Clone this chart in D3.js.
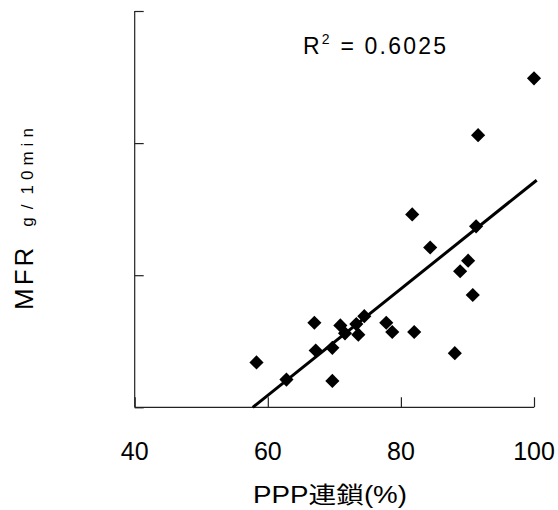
<!DOCTYPE html>
<html><head><meta charset="utf-8">
<script src="https://cdn.jsdelivr.net/npm/d3@7"></script>
<style>html,body{margin:0;padding:0;background:#fff;}svg{display:block;}</style>
</head><body>
<svg id="c" width="558" height="510"></svg>
<script>
// Data
const pppChain = [58.3, 62.8, 69.7, 67.2, 69.7, 67.0, 70.9, 71.6, 73.3, 73.6, 74.5, 77.8, 78.7, 82.0, 88.1, 90.8, 88.9, 90.1, 84.4, 91.3, 81.7, 91.6, 100.0];
const mfr      = [0.34, 0.21, 0.20, 0.43, 0.45, 0.64, 0.62, 0.56, 0.63, 0.55, 0.69, 0.64, 0.57, 0.57, 0.41, 0.85, 1.03, 1.11, 1.21, 1.37, 1.46, 2.06, 2.49];
const xTicks = [40, 60, 80, 100];
const yTicks = [0, 1, 2, 3];
const trendCoef = [0.0403, -2.327];   // slope, intercept
const trendXMax = 100.4;
const r2Value = "0.6025";

const svg = d3.select("#c");
const m = {l: 134.7, r: 534, t: 11, b: 407.3};
const x = d3.scaleLinear().domain([40, 100]).range([m.l, m.r]);
const y = d3.scaleLinear().domain([0, 3]).range([m.b, m.t]);

// axes with inward ticks
const gx = svg.append("g").attr("transform", `translate(0,${m.b})`)
  .call(d3.axisTop(x).tickValues(xTicks).tickSize(10).tickFormat(""));
gx.select(".domain").attr("d", `M${m.l},0H${m.r}`);
const gy = svg.append("g").attr("transform", `translate(${m.l},0)`)
  .call(d3.axisRight(y).tickValues(yTicks).tickSize(9).tickFormat(""));
gy.select(".domain").attr("d", `M0,${m.t}V${m.b}`);
svg.selectAll(".domain").attr("stroke", "#222").attr("stroke-width", 1.2);
svg.selectAll(".tick line").attr("stroke", "#222").attr("stroke-width", 1.2);

// x tick labels
svg.append("g").selectAll("text").data(xTicks).join("text")
  .attr("x", d => x(d)).attr("y", 460)
  .attr("text-anchor", "middle")
  .attr("font-family", "Liberation Sans, Arial, sans-serif")
  .attr("font-size", 25).attr("fill", "#000")
  .text(d => d);

// trend line
const x0 = -trendCoef[1] / trendCoef[0];
svg.append("line")
  .attr("x1", x(x0)).attr("y1", y(trendCoef[0]*x0 + trendCoef[1]))
  .attr("x2", x(trendXMax)).attr("y2", y(trendCoef[0]*trendXMax + trendCoef[1]))
  .attr("stroke", "#000").attr("stroke-width", 3);

// points (diamonds)
const diamond = d3.symbol().type(d3.symbolSquare).size(100);
svg.append("g").selectAll("path").data(pppChain.map((v, i) => [v, mfr[i]])).join("path")
  .attr("d", diamond)
  .attr("transform", d => `translate(${x(d[0])},${y(d[1])}) rotate(45)`)
  .attr("fill", "#000");

// R² text
const rt = svg.append("text").attr("x", 303).attr("y", 53.5)
  .attr("font-family", "Liberation Sans, Arial, sans-serif")
  .style("font-size", "23px").style("letter-spacing", "2.2px").attr("fill", "#000");
rt.append("tspan").text("R");
rt.append("tspan").style("font-size", "14px").attr("dy", -10).text("2");
rt.append("tspan").attr("dy", 10).text(" = " + r2Value);

// x title
svg.append("text").attr("x", 253).attr("y", 503)
  .attr("font-family", "Liberation Sans, 'Noto Sans CJK JP', sans-serif")
  .style("font-size", "23px").attr("fill", "#000")
  .attr("textLength", 154).attr("lengthAdjust", "spacingAndGlyphs")
  .text("PPP連鎖(%)");

// y title
const yt = svg.append("text")
  .attr("transform", "translate(33,310) rotate(-90)")
  .attr("text-anchor", "start")
  .attr("font-family", "Liberation Sans, Arial, sans-serif")
  .attr("fill", "#000");
yt.append("tspan").style("font-size", "26px").style("letter-spacing", "3px").text("MFR");
yt.append("tspan").style("font-size", "17px").style("letter-spacing", "5px").attr("dx", 18).text("g");
yt.append("tspan").style("font-size", "17px").style("letter-spacing", "5px").attr("dx", 3).text("/");
yt.append("tspan").style("font-size", "17px").style("letter-spacing", "5px").attr("dx", 5).text("10min");
</script>
</body></html>
